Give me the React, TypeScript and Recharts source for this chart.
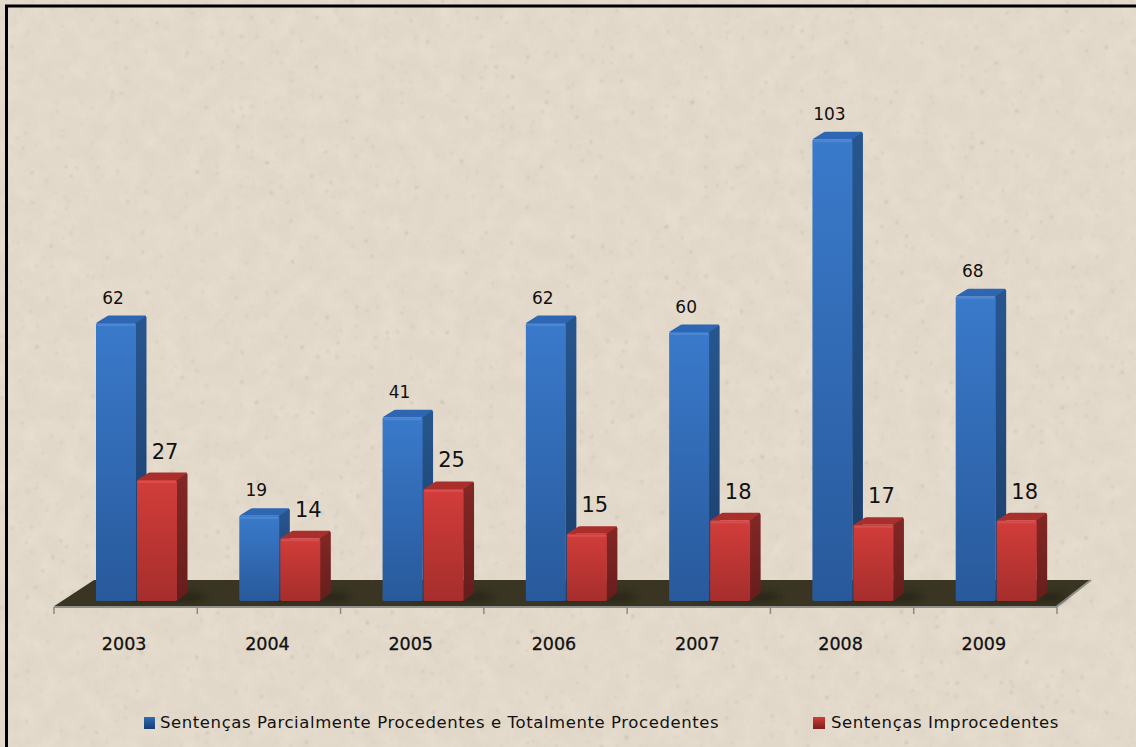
import React from "react";
import { BarChart, Bar, XAxis, YAxis, ReferenceArea, Legend, LabelList } from "recharts";

const years = ["2003", "2004", "2005", "2006", "2007", "2008", "2009"];
const procedentes = [62, 19, 41, 62, 60, 103, 68];
const improcedentes = [27, 14, 25, 15, 18, 17, 18];
const seriesNames = ["Sentenças Parcialmente Procedentes e Totalmente Procedentes", "Sentenças Improcedentes"];
const rows = years.map((year, i) => ({ year, procedentes: procedentes[i], improcedentes: improcedentes[i] }));

const W = 1136, H = 747;
const M = { top: 63, right: 79, bottom: 80, left: 54 };
const BAND = (W - M.left - M.right) / years.length;
const SHIFT = 11, DX = 10.5, DY = 7.5;
const FONT = "'DejaVu Sans', Verdana, sans-serif";

const palette: any = {
  blue: { front: "url(#blueFront)", side: "url(#blueSide)", top: "#2d67b3" },
  red: { front: "url(#redFront)", side: "url(#redSide)", top: "#a92e2c" },
};

function Box3D(props: any) {
  const { x, y, width, height, tone } = props;
  const c = palette[tone];
  const l = x + SHIFT, r = l + width, b = y + height;
  return (
    <g>
      <ellipse cx={r + 8} cy={b - 4} rx={22} ry={5} fill="#1f1b10" opacity={0.55} filter="url(#soft)" />
      <path d={`M${r - 1} ${y}L${r + DX - 1} ${y - DY}L${r + DX} ${y - DY + 2}L${r + DX} ${b - DY - 1}L${r} ${b}Z`} fill={c.side} />
      <path d={`M${l} ${y}L${l + DX} ${y - DY + 1}Q${l + DX + 1} ${y - DY} ${l + DX + 3} ${y - DY}L${r + DX - 2} ${y - DY}Q${r + DX} ${y - DY} ${r + DX - 1} ${y - DY + 1}L${r} ${y}Z`} fill={c.top} />
      <rect x={l} y={y} width={width} height={height} rx={1.5} fill={c.front} />
      <rect x={l + 1} y={y + 1} width={width - 2} height={2} fill="#ffffff" opacity={0.1} />
    </g>
  );
}

const Floor = (props: any) => {
  const { x, y, width, height } = props;
  const bx = x, ex = x + width, by = y + height;
  return (
    <g>
      <path d={`M${bx} ${by}L${bx + 40} ${y}L${ex + 33} ${y}L${ex} ${by}Z`} fill="#3a3523" />
      <path d={`M${ex} ${by}L${ex + 34} ${y}`} stroke="#8f8f8b" strokeWidth={2} fill="none" />
    </g>
  );
};

const YearTick = (props: any) => {
  const { x, y, payload, index } = props;
  const half = BAND / 2;
  return (
    <g>
      <line x1={x - half} x2={x - half} y1={y - 8} y2={y - 1} stroke="#8a8a88" strokeWidth={1.5} />
      {index === years.length - 1 && <line x1={x + half} x2={x + half} y1={y - 8} y2={y - 1} stroke="#8a8a88" strokeWidth={1.5} />}
      <text x={x - 1.5} y={y + 35} textAnchor="middle" fontFamily={FONT} fontSize={17.5} fill="#111" stroke="#111" strokeWidth={0.3}>{payload.value}</text>
    </g>
  );
};

const valueLabel = (offset: number, size: number, rise: number) => (props: any) => {
  const { x, y, width, value } = props;
  return (
    <text x={x + width / 2 + SHIFT + offset} y={y - rise} dy="0.36em" textAnchor="middle" fontFamily={FONT} fontSize={size} fill="#111">{value}</text>
  );
};

const LegendRow = () => (
  <div style={{ position: "relative", width: W, height: 30, fontFamily: FONT, fontSize: 16.5, letterSpacing: 0.58, color: "#111", whiteSpace: "nowrap" }}>
    <span style={{ position: "absolute", left: 144, top: 3, width: 11, height: 12, background: "linear-gradient(#2f6cb8,#173c70)" }} />
    <span style={{ position: "absolute", left: 160, top: -1 }}>{seriesNames[0]}</span>
    <span style={{ position: "absolute", left: 813, top: 3, width: 12, height: 12, background: "linear-gradient(#d23c38,#7a1f1e)" }} />
    <span style={{ position: "absolute", left: 831, top: -1 }}>{seriesNames[1]}</span>
  </div>
);

export default function App() {
  return (
    <div style={{ position: "absolute", left: 0, top: 0, width: W, height: H, overflow: "hidden", background: "#e2d8c9" }}>
      <svg width={W} height={H} style={{ position: "absolute", left: 0, top: 0 }}>
        <defs>
          <filter id="grain" x="0" y="0" width="100%" height="100%">
            <feTurbulence type="fractalNoise" baseFrequency="0.05" numOctaves={3} seed={7} />
            <feColorMatrix values="0 0 0 0 0.96  0 0 0 0 0.93  0 0 0 0 0.87  0.9 0 0 0 -0.3" />
          </filter>
          <filter id="shade" x="0" y="0" width="100%" height="100%">
            <feTurbulence type="fractalNoise" baseFrequency="0.035" numOctaves={3} seed={21} />
            <feColorMatrix values="0 0 0 0 0.72  0 0 0 0 0.66  0 0 0 0 0.56  0 1.1 0 0 -0.42" />
          </filter>
          <filter id="speck" x="0" y="0" width="100%" height="100%">
            <feTurbulence type="fractalNoise" baseFrequency="0.2" numOctaves={2} seed={3} />
            <feColorMatrix values="0 0 0 0 0.45  0 0 0 0 0.42  0 0 0 0 0.36  0 0 7 0 -5.0" />
            <feGaussianBlur stdDeviation={0.8} />
          </filter>
        </defs>
        <rect width={W} height={H} filter="url(#grain)" opacity={0.4} />
        <rect width={W} height={H} filter="url(#shade)" opacity={0.45} />
        <rect width={W} height={H} filter="url(#speck)" opacity={0.7} />
        <path d={`M6.5 ${H}L6.5 6L${W} 6`} fill="none" stroke="#000" strokeWidth={3} />
      </svg>
      <div style={{ position: "absolute", left: 0, top: 0 }}>
        <BarChart width={W} height={H} data={rows} margin={M} barSize={40} barGap={1}>
          <defs>
            <linearGradient id="blueFront" x1="0" y1="0" x2="0" y2="1">
              <stop offset="0" stopColor="#3a7acb" />
              <stop offset="1" stopColor="#28599b" />
            </linearGradient>
            <linearGradient id="blueSide" x1="0" y1="0" x2="0" y2="1">
              <stop offset="0" stopColor="#27568f" />
              <stop offset="1" stopColor="#1b3d69" />
            </linearGradient>
            <linearGradient id="redFront" x1="0" y1="0" x2="0" y2="1">
              <stop offset="0" stopColor="#d23d3a" />
              <stop offset="1" stopColor="#a52e2c" />
            </linearGradient>
            <linearGradient id="redSide" x1="0" y1="0" x2="0" y2="1">
              <stop offset="0" stopColor="#832826" />
              <stop offset="1" stopColor="#661d1c" />
            </linearGradient>
            <filter id="soft" x="-50%" y="-100%" width="200%" height="300%">
              <feGaussianBlur stdDeviation={3} />
            </filter>
          </defs>
          <YAxis hide domain={[-1.34, 120]} />
          <XAxis dataKey="year" axisLine={{ stroke: "#8f8f8b", strokeWidth: 2 }} tickLine={false} tick={<YearTick />} interval={0} />
          <ReferenceArea x1="2003" x2="2009" y1={-1.2} y2={4.7} shape={<Floor />} ifOverflow="visible" />
          <Bar dataKey="procedentes" name={seriesNames[0]} isAnimationActive={false} shape={<Box3D tone="blue" />}>
            <LabelList dataKey="procedentes" content={valueLabel(-3, 17, 25.5)} />
          </Bar>
          <Bar dataKey="improcedentes" name={seriesNames[1]} isAnimationActive={false} shape={<Box3D tone="red" />}>
            <LabelList dataKey="improcedentes" content={valueLabel(8, 21, 29)} />
          </Bar>
          <Legend content={<LegendRow />} wrapperStyle={{ left: 0, top: 714, bottom: "auto", width: W }} />
        </BarChart>
      </div>
    </div>
  );
}
